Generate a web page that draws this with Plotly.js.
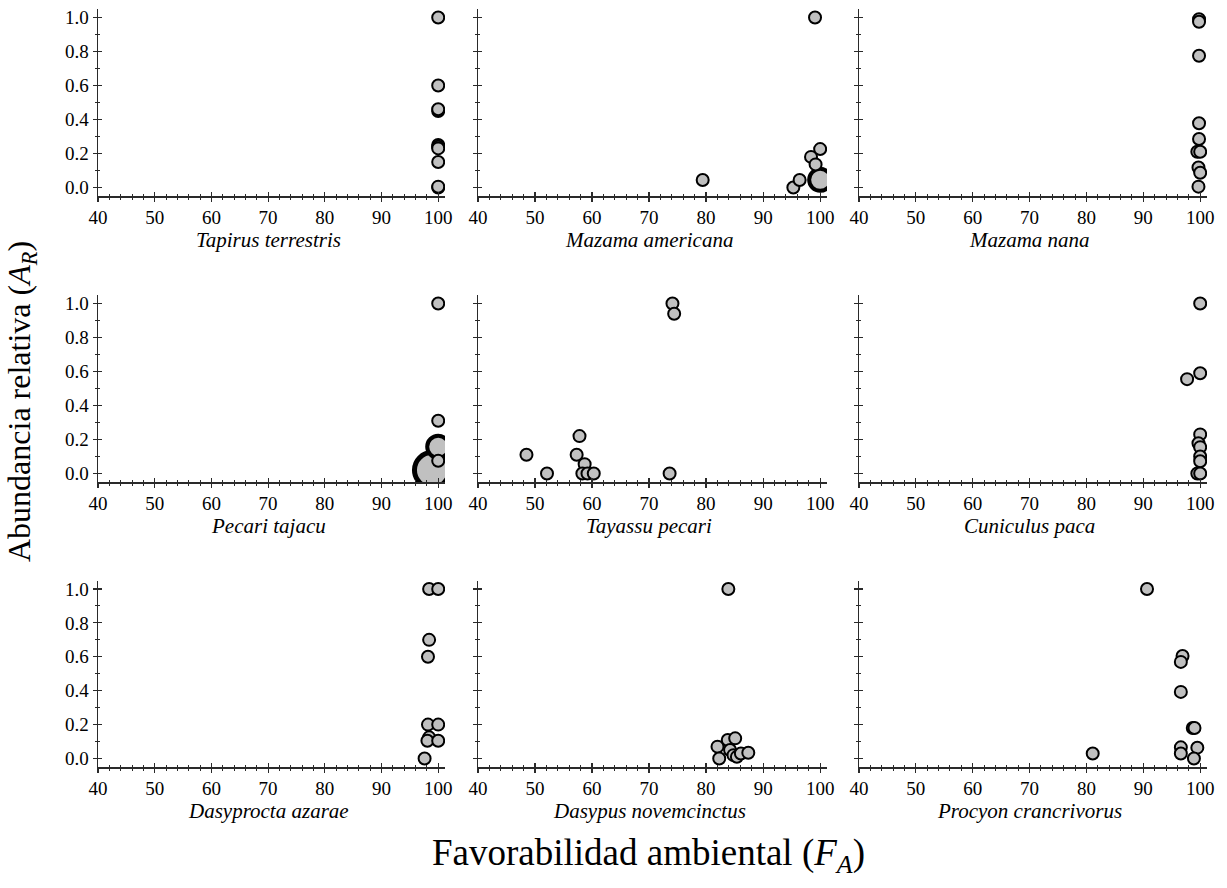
<!DOCTYPE html>
<html>
<head>
<meta charset="utf-8">
<script src="https://cdn.plot.ly/plotly-3.0.1.min.js"></script>
<style>
html,body{margin:0;padding:0;background:#fff;}
#chart{width:1227px;height:888px;}
#chart .xtick text, #chart .ytick text { font-family: 'Liberation Serif', 'Times New Roman', serif !important; }
</style>
</head>
<body>
<div id="chart"></div>
<script>
// ---- Data ----
const species = ['Tapirus terrestris','Mazama americana','Mazama nana',
                 'Pecari tajacu','Tayassu pecari','Cuniculus paca',
                 'Dasyprocta azarae','Dasypus novemcinctus','Procyon crancrivorus'];

const tapirusFA = [100, 100, 100, 100, 100, 100, 100, 100, 100, 100];
const tapirusAR = [1.0, 0.6, 0.45, 0.46, 0.25, 0.24, 0.23, 0.15, 0.0, 0.005];

const mazamaAmFA = [100, 99.1, 79.4, 95.3, 96.4, 98.4, 100, 99.2];
const mazamaAmAR = [0.045, 1.0, 0.044, 0.0, 0.044, 0.18, 0.226, 0.136];

const mazamaNaFA = [99.8, 99.8, 99.8, 99.8, 99.8, 99.5, 100, 99.7, 100, 99.7];
const mazamaNaAR = [0.99, 0.975, 0.775, 0.378, 0.285, 0.21, 0.21, 0.118, 0.087, 0.005];

const pecariFA = [98.9, 100, 100, 100, 100];
const pecariAR = [0.02, 0.157, 1.0, 0.31, 0.075];

const tayassuFA = [74.1, 74.4, 48.5, 52.1, 57.8, 57.3, 58.7, 58.3, 59.2, 60.3, 73.6];
const tayassuAR = [1.0, 0.94, 0.11, 0.0, 0.22, 0.11, 0.055, 0.0, 0.0, 0.0, 0.0];

const cuniculusFA = [100, 97.7, 100, 100, 99.7, 100, 100, 100, 99.5, 100];
const cuniculusAR = [1.0, 0.555, 0.59, 0.23, 0.178, 0.155, 0.10, 0.072, 0.0, 0.0];

const dasyproctaFA = [98.4, 100, 98.4, 98.2, 98.2, 100, 98.4, 98.1, 100, 97.6];
const dasyproctaAR = [1.0, 1.0, 0.70, 0.60, 0.20, 0.20, 0.125, 0.105, 0.105, 0.0];

const dasypusFA = [83.9, 82.0, 82.3, 83.8, 85.1, 84.2, 84.8, 85.4, 86.1, 87.4];
const dasypusAR = [1.0, 0.07, 0.0, 0.109, 0.119, 0.05, 0.02, 0.01, 0.03, 0.034];

const procyonFA = [90.65, 96.9, 96.6, 96.6, 98.7, 99.0, 81.1, 96.6, 96.6, 99.5, 98.9];
const procyonAR = [1.0, 0.605, 0.57, 0.393, 0.18, 0.18, 0.03, 0.066, 0.03, 0.064, 0.0];

const xTickVals = [40, 50, 60, 70, 80, 90, 100];
const yTickVals = [0.0, 0.2, 0.4, 0.6, 0.8, 1.0];
const yTickText = ['0.0', '0.2', '0.4', '0.6', '0.8', '1.0'];

const panelX = [tapirusFA, mazamaAmFA, mazamaNaFA, pecariFA, tayassuFA, cuniculusFA, dasyproctaFA, dasypusFA, procyonFA];
const panelY = [tapirusAR, mazamaAmAR, mazamaNaAR, pecariAR, tayassuAR, cuniculusAR, dasyproctaAR, dasypusAR, procyonAR];

// ---- Styles (marker emphasis for heavily overlapping points: panel -> {index: [size, lineWidth]}) ----
const heavy = {1: {0: [22, 4]}, 3: {0: [35, 5], 1: [22, 4]}};

// ---- Layout geometry ----
const W = 1227, H = 888;
const colPx = [[98, 445], [478, 827], [859, 1207]];
const rowPx = [[9, 196], [295, 482], [580.5, 767]];
const px = v => v / W;
const py = v => 1 - v / H;

const serif = 'Liberation Serif';
const axisColor = '#2a2a2a';

const data = [];
const layout = {
  width: W, height: H,
  margin: {l: 0, r: 0, t: 0, b: 0},
  paper_bgcolor: '#fff', plot_bgcolor: '#fff',
  showlegend: false,
  font: {family: serif, size: 19, color: '#000'},
  annotations: []
};

for (let i = 0; i < 9; i++) {
  const r = Math.floor(i / 3), c = i % 3;
  const n = i + 1, m = i + 10;
  const xs = panelX[i], ys = panelY[i];
  const sizes = xs.map((_, k) => (heavy[i] && heavy[i][k]) ? heavy[i][k][0] : 12);
  const lws = xs.map((_, k) => (heavy[i] && heavy[i][k]) ? heavy[i][k][1] : 2);
  data.push({
    type: 'scatter', mode: 'markers',
    x: xs, y: ys,
    xaxis: 'x' + n, yaxis: 'y' + n,
    marker: {size: sizes, opacity: 1, color: '#c0c0c0', line: {color: '#000', width: lws}},
    hoverinfo: 'x+y'
  });
  // empty trace for overlay axes (crossing ticks)
  data.push({type: 'scatter', mode: 'markers', x: [], y: [], xaxis: 'x' + m, yaxis: 'y' + m, hoverinfo: 'skip'});

  const xr = [40, 101.2], yr = [-0.05, 1.05];
  const common = {
    showgrid: false, zeroline: false, fixedrange: true,
    tickcolor: axisColor, tickwidth: 1.2
  };
  layout['xaxis' + n] = Object.assign({}, common, {
    domain: [px(colPx[c][0]), px(colPx[c][1])], anchor: 'y' + n,
    range: xr, showline: true, linecolor: axisColor, linewidth: 1.5,
    tickvals: xTickVals, ticktext: xTickVals.map(String),
    ticks: 'outside', ticklen: 4,
    minor: {dtick: 2, tick0: 40, ticks: 'outside', ticklen: 2, tickcolor: axisColor, tickwidth: 1},
    tickfont: {family: serif, size: 19, color: '#000'}
  });
  layout['yaxis' + n] = Object.assign({}, common, {
    domain: [py(rowPx[r][1]), py(rowPx[r][0])], anchor: 'x' + n,
    range: yr, showline: true, linecolor: axisColor, linewidth: 1.5,
    tickvals: yTickVals, ticktext: yTickText,
    ticks: 'outside', ticklen: 4,
    minor: {dtick: 0.1, tick0: 0, ticks: 'outside', ticklen: 2, tickcolor: axisColor, tickwidth: 1},
    showticklabels: c === 0,
    tickfont: {family: serif, size: 19, color: '#000'}
  });
  layout['xaxis' + m] = Object.assign({}, common, {
    overlaying: 'x' + n, anchor: 'y' + m, range: xr,
    showline: false, tickvals: xTickVals, showticklabels: false,
    ticks: 'inside', ticklen: 4,
    minor: {dtick: 2, tick0: 40, ticks: 'inside', ticklen: 2, tickcolor: axisColor, tickwidth: 1}
  });
  layout['yaxis' + m] = Object.assign({}, common, {
    overlaying: 'y' + n, anchor: 'x' + m, range: yr,
    showline: false, tickvals: yTickVals, showticklabels: false,
    ticks: 'inside', ticklen: 4,
    minor: {dtick: 0.1, tick0: 0, ticks: 'inside', ticklen: 2, tickcolor: axisColor, tickwidth: 1}
  });

  layout.annotations.push({
    text: '<i>' + species[i] + '</i>',
    xref: 'x' + n, x: 70, yref: 'paper', y: py(rowPx[r][1] + 44),
    xanchor: 'center', yanchor: 'middle', showarrow: false,
    font: {family: serif, size: 21, color: '#000'}
  });
}

layout.annotations.push({
  text: 'Abundancia relativa (<i>A<sub>R</sub></i>)',
  xref: 'paper', yref: 'paper', x: px(22), y: py(402),
  xanchor: 'center', yanchor: 'middle', textangle: -90, showarrow: false,
  font: {family: serif, size: 32, color: '#000'}
});
layout.annotations.push({
  text: 'Favorabilidad ambiental (<i>F<sub>A</sub></i>)',
  xref: 'paper', yref: 'paper', x: px(648), y: py(855),
  xanchor: 'center', yanchor: 'middle', showarrow: false,
  font: {family: serif, size: 37, color: '#000'}
});

Plotly.newPlot('chart', data, layout, {staticPlot: true, displayModeBar: false});
</script>
</body>
</html>
